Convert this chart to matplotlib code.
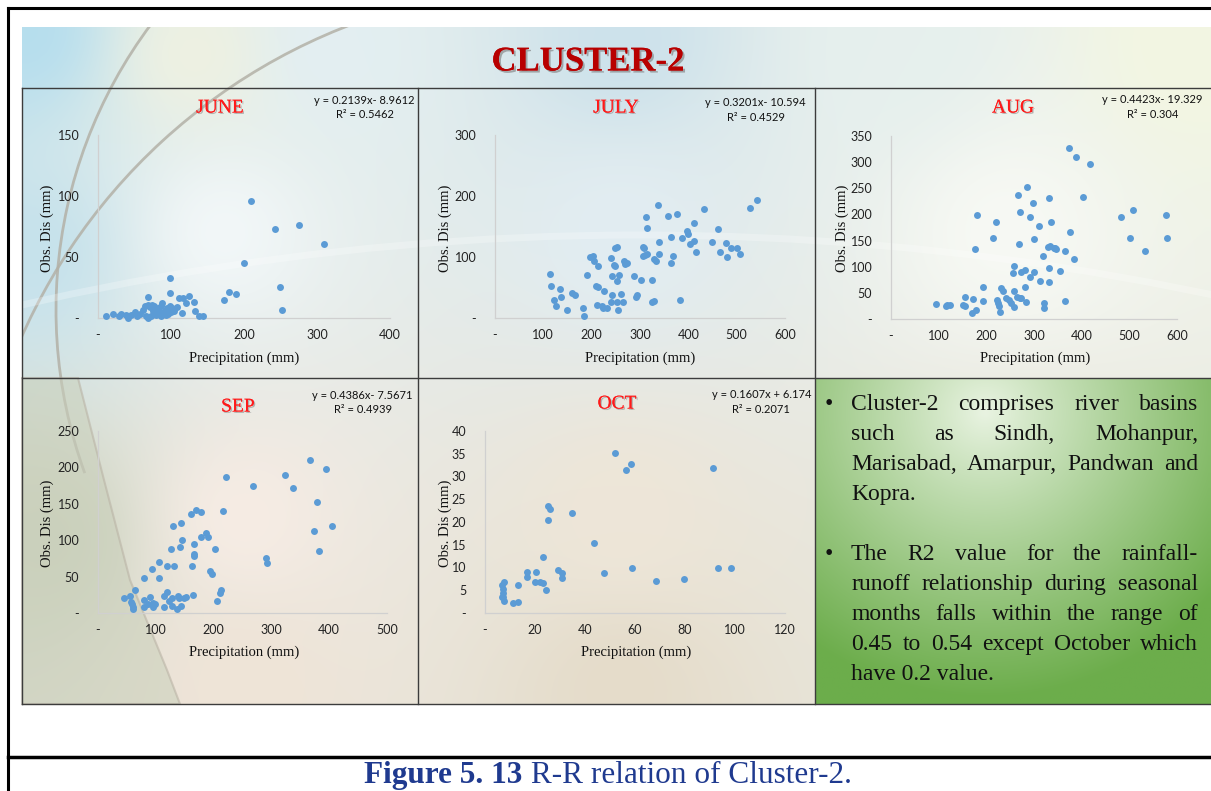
import numpy as np
import matplotlib
matplotlib.use('Agg')
import matplotlib.pyplot as plt
import matplotlib.colors as mcolors
from matplotlib import patheffects as pe
from matplotlib.patches import Arc, Polygon
from matplotlib.ticker import FuncFormatter, MultipleLocator

W, H = 1211, 791

# ---- data ----
june_x = [11, 21, 29, 32, 39, 41, 45, 50, 53, 62, 65, 66, 68, 68, 71, 74, 77, 77, 80, 84,
          86, 86, 90, 93, 95, 98, 100, 104, 68, 99, 99, 108, 111, 115, 116, 120, 124, 131, 133, 139,
          144, 173, 180, 189, 200, 209, 242, 249, 252, 276, 310, 58, 72, 82, 88, 92, 96, 102, 75]
june_y = [2, 3.3, 2, 3.3, 2.7, 0, 2.7, 4.6, 1.4, 6.8, 9.6, 1.4, 11, 0, 8.7, 10.4, 10, 4, 2.7, 5.5,
          9.6, 1.4, 5, 2.7, 8.2, 9.6, 4.6, 5.5, 17, 33, 20.5, 8.7, 16.4, 4.4, 16.4, 12.3, 18, 13.4, 5.5, 1.4,
          1.4, 14.8, 21.3, 20, 45, 95.6, 73, 25.4, 6.8, 76.5, 61, 3, 2, 8, 12, 6, 3, 8, 6]

july_x = [114, 115, 123, 126, 134, 137, 148, 159, 166, 183, 184, 191, 197, 202, 205, 214, 208, 214, 212, 221,
          224, 231, 226, 241, 246, 248, 248, 253, 243, 243, 241, 252, 253, 255, 257, 261, 264, 267, 269, 274,
          287, 291, 294, 302, 307, 309, 306, 310, 314, 312, 315, 324, 328, 325, 328, 334, 338, 339, 339, 357,
          364, 364, 369, 376, 383, 387, 397, 400, 404, 412, 412, 416, 433, 448, 461, 465, 477, 479, 488, 500,
          506, 528, 543]
july_y = [72, 53, 30, 20, 47, 35, 12.5, 41, 37, 16, 4, 70, 100, 102, 93, 84.5, 52, 51, 22, 20,
          16, 16, 45, 98, 87, 84.5, 114, 117, 69, 37, 27, 61, 27, 12.5, 70, 39, 27, 93, 89, 90,
          69, 35, 37, 62, 117, 114, 101, 104, 105, 166, 148, 27, 28, 62, 97, 93, 186, 125, 105, 167,
          133, 90, 102, 170, 30, 131, 143, 137, 121, 126, 155, 109, 178, 124, 146, 109, 123, 100, 115, 114,
          105, 180, 193]

aug_x = [95, 116, 118, 123, 150, 156, 156, 169, 173, 179, 177, 180, 193, 194, 215, 220, 223, 225, 227, 228,
         231, 234, 242, 248, 251, 255, 258, 259, 258, 265, 270, 266, 269, 270, 272, 273, 281, 281, 284, 285,
         292, 292, 297, 300, 299, 311, 313, 318, 320, 320, 329, 331, 331, 331, 334, 336, 341, 344, 346, 355,
         366, 366, 375, 374, 384, 388, 403, 418, 482, 501, 508, 533, 577, 580]
aug_y = [29, 24, 27, 26, 27, 43, 25, 11, 38, 18, 133, 199, 35, 62, 154, 186, 36, 30, 24, 13,
         60, 53, 40, 37, 30, 88, 102, 53, 22, 42, 40, 238, 143, 204, 90, 40, 94, 62, 32, 252,
         196, 81, 221, 89, 153, 178, 72, 121, 30, 21, 137, 70, 97, 231, 139, 186, 135, 135, 134, 91,
         131, 35, 167, 327, 115, 310, 233, 296, 196, 154, 208, 131, 199, 154]

sep_x = [45, 56, 57, 59, 60, 60, 64, 79, 79, 80, 87, 90, 93, 96, 96, 99, 106, 106, 115, 115,
         119, 119, 122, 126, 128, 128, 130, 132, 136, 139, 141, 142, 143, 144, 145, 148, 153, 161, 163, 165,
         166, 166, 166, 169, 178, 179, 187, 191, 193, 197, 202, 206, 211, 213, 216, 221, 269, 290, 293, 324,
         337, 366, 379, 374, 382, 395, 404]
sep_y = [21, 23, 15, 13, 8, 6, 32, 48, 8, 18, 12, 22, 60, 14, 8, 13, 70, 48, 8, 23,
         29, 65, 17, 88, 20, 10, 120, 65, 5, 23, 20, 91, 124, 9, 100, 20, 22, 136, 64, 25,
         95, 81, 78, 141, 139, 105, 110, 105, 58, 53, 88, 17, 27, 32, 140, 187, 175, 76, 68, 190,
         172, 210, 152, 112, 85, 198, 120]

oct_x = [6.9, 7.6, 7.1, 7.3, 7.3, 6.9, 7.6, 11.1, 13.1, 13.3, 16.7, 16.9, 20, 20.4, 22, 23.3, 23.2, 24.4,
         25.3, 26, 25.3, 29.3, 30.9, 30.9, 34.8, 43.7, 47.6, 52, 56.4, 58.5, 58.8, 68.3, 79.6, 91.1, 93.2, 98.5]
oct_y = [6.2, 6.8, 5.3, 4.5, 3.6, 3.5, 2.6, 2.1, 2.4, 6.2, 7.9, 9.0, 6.9, 9.0, 6.9, 6.5, 12.3, 5.1,
         23.6, 22.8, 20.4, 9.5, 8.8, 7.7, 22, 15.3, 8.9, 35.2, 31.4, 32.7, 9.9, 7.0, 7.5, 31.9, 10, 10]

months = ['JUNE', 'JULY', 'AUG', 'SEP', 'OCT']
equations = ['y = 0.2139x- 8.9612\nR² = 0.5462',
             'y = 0.3201x- 10.594\nR² = 0.4529',
             'y = 0.4423x- 19.329\nR² = 0.304',
             'y = 0.4386x- 7.5671\nR² = 0.4939',
             'y = 0.1607x + 6.174\nR² = 0.2071']

bullet1 = ['Cluster-2 comprises river basins', 'such as Sindh, Mohanpur,',
           'Marisabad, Amarpur, Pandwan and', 'Kopra.']
bullet2 = ['The R2 value for the rainfall-', 'runoff relationship during seasonal',
           'months falls within the range of', '0.45 to 0.54 except October which',
           'have 0.2 value.']

SERIF = ['Liberation Serif', 'DejaVu Serif']
SANS = ['Lato', 'DejaVu Sans']
BLUE = '#5B9BD5'

fig = plt.figure(figsize=(W / 100, H / 100), dpi=100)
fig.patch.set_facecolor('white')

# pixel-space background axes
bg = fig.add_axes([0, 0, 1, 1])
bg.set_xlim(0, W)
bg.set_ylim(H, 0)
bg.axis('off')
bg.set_zorder(-5)

# slide background gradient
anchors = [(22, 27, '#b6deee'), (190, 50, '#eef1e2'), (330, 45, '#e3eff2'), (620, 40, '#cde2eb'),
           (900, 40, '#e6f0ee'), (1200, 40, '#f3f6e2'), (220, 230, '#f2f7f8'), (620, 230, '#e2edf2'),
           (1010, 230, '#f7f9f4'), (30, 250, '#c6e2ec'), (40, 540, '#cdd3bf'), (240, 520, '#f6ece4'),
           (620, 520, '#eee6d8'), (240, 690, '#efe4d7'), (620, 690, '#e5dcca'), (1010, 520, '#e8e4d8')]
gx, gy = np.meshgrid(np.linspace(22, 1211, 120), np.linspace(27, 704, 70))
num = np.zeros(gx.shape + (3,))
den = np.zeros(gx.shape)
for axp, ayp, c in anchors:
    w = 1.0 / ((gx - axp) ** 2 + (gy - ayp) ** 2 + 400.0) ** 1.2
    num += w[..., None] * np.array(mcolors.to_rgb(c))
    den += w
bg.imshow(num / den[..., None], extent=(22, 1211, 704, 27), interpolation='bilinear',
          aspect='auto', zorder=0)

# decorative arcs on the slide (left side only)
clip = plt.Rectangle((22, 27), 1189, 677, transform=bg.transData)
for (cx, cy), r, t1, t2 in [((533, 310), 477, 160, 225), ((561, 576), 590, 200, 255)]:
    a = Arc((cx, cy), 2 * r, 2 * r, theta1=t1, theta2=t2, color='#b3b1a7', lw=2, alpha=0.85, zorder=1)
    bg.add_patch(a)
    a.set_clip_path(clip)
band = Arc((640, 3000), 5530, 5530, theta1=250, theta2=290, color='white', lw=5, alpha=0.25, zorder=1)
bg.add_patch(band)
band.set_clip_path(clip)
dark = Polygon([(22, 378), (78, 378), (104, 480), (130, 580), (167, 670), (180, 704), (22, 704)],
               closed=True, facecolor='#c9cfba', edgecolor='#b7b0a2', lw=1.5, alpha=0.55, zorder=1)
bg.add_patch(dark)

# green text panel
gx2, gy2 = np.meshgrid(np.linspace(815, 1211, 80), np.linspace(378, 704, 66))
d = np.clip(np.sqrt(((gx2 - 985) / 300) ** 2 + ((gy2 - 410) / 290) ** 2), 0, 1)
c0 = np.array(mcolors.to_rgb('#eaf4e3'))
c1 = np.array(mcolors.to_rgb('#6cad4b'))
bg.imshow(c0 + (c1 - c0) * (d[..., None] ** 0.9), extent=(815, 1211, 704, 378),
          interpolation='bilinear', aspect='auto', zorder=2)

# panel grid lines
lc = '#3c3c3c'
for y in [88, 378, 704]:
    bg.plot([22, 1211], [y, y], color=lc, lw=1, zorder=3)
for x in [22, 418, 815]:
    bg.plot([x, x], [88, 704], color=lc, lw=1, zorder=3)

# outer frame
bg.plot([8, 8], [8, H], color='black', lw=2.2, zorder=4)
bg.plot([8, W], [8, 8], color='black', lw=2.2, zorder=4)
bg.plot([8, W], [757, 757], color='black', lw=2.5, zorder=4)

# title
bg.text(588, 62, 'CLUSTER-2', ha='center', va='center', fontsize=25, fontweight='bold',
        color='#B80000', family=SERIF, zorder=5,
        path_effects=[pe.withSimplePatchShadow(offset=(1.5, -1.5), shadow_rgbFace='#7a7a7a', alpha=0.6),
                      pe.Normal()])


def fmt(v, pos):
    return '-' if abs(v) < 1e-9 else f'{v:g}'


def panel(x, y, rect, xmax, xstep, ymax, ystep, title, title_xy, eq, eq_xy, ylab_xy, xlab_xy):
    l, t, r, b = rect
    ax = fig.add_axes([l / W, 1 - b / H, (r - l) / W, (b - t) / H])
    ax.patch.set_alpha(0)
    ax.scatter(x, y, s=25, color=BLUE, linewidths=0, clip_on=False, zorder=3)
    ax.set_xlim(0, xmax)
    ax.set_ylim(0, ymax)
    ax.xaxis.set_major_locator(MultipleLocator(xstep))
    ax.yaxis.set_major_locator(MultipleLocator(ystep))
    ax.xaxis.set_major_formatter(FuncFormatter(fmt))
    ax.yaxis.set_major_formatter(FuncFormatter(fmt))
    for s in ['top', 'right']:
        ax.spines[s].set_visible(False)
    for s in ['left', 'bottom']:
        ax.spines[s].set_color('#d0d0d0')
        ax.spines[s].set_linewidth(0.9)
    ax.tick_params(axis='both', length=0, labelsize=9, labelcolor='#222222')
    ax.tick_params(axis='y', pad=13.5)
    ax.tick_params(axis='x', pad=8)
    for lab in ax.get_xticklabels() + ax.get_yticklabels():
        lab.set_family(SANS)
    bg.text(title_xy[0], title_xy[1], title, ha='center', va='center', fontsize=14, color='#FF1A1A',
            family=SERIF, zorder=5,
            path_effects=[pe.withSimplePatchShadow(offset=(1, -1), shadow_rgbFace='#8a8a8a', alpha=0.6),
                          pe.Normal()])
    bg.text(eq_xy[0], eq_xy[1], eq, ha='right', va='center', multialignment='center',
            fontsize=8, family=SANS, color='#111111', linespacing=1.35, zorder=5)
    bg.text(ylab_xy[0], ylab_xy[1], 'Obs. Dis (mm)', rotation=90, ha='center', va='center',
            fontsize=10.5, family=SERIF, color='#111111', zorder=5)
    bg.text(xlab_xy[0], xlab_xy[1], 'Precipitation (mm)', ha='center', va='center',
            fontsize=10.5, family=SERIF, color='#111111', zorder=5)
    return ax


panel(june_x, june_y, (98, 135, 390, 318), 400, 100, 150, 50, months[0], (220, 108),
      equations[0], (415, 107.5), (47, 228), (244, 358))
panel(july_x, july_y, (495, 135, 785, 318), 600, 100, 300, 100, months[1], (616, 108),
      equations[1], (806, 110), (445, 228), (640, 358))
panel(aug_x, aug_y, (891, 136, 1177, 319), 600, 100, 350, 50, months[2], (1013, 108),
      equations[2], (1203, 107), (842, 228), (1035, 358))
panel(sep_x, sep_y, (98, 431, 387, 613), 500, 100, 250, 50, months[3], (238, 407),
      equations[3], (413, 402.5), (47, 523), (244, 652))
panel(oct_x, oct_y, (485, 431, 785, 613), 120, 20, 40, 5, months[4], (617, 404),
      equations[4], (811, 402), (445, 523), (636, 652))

# bullet text, justified like the slide
renderer = fig.canvas.get_renderer()
tkw = dict(fontsize=17, family=SERIF, color='#111111', va='baseline', zorder=6)


def put_line(line, y, left, right, justify):
    if not justify:
        bg.text(left, y, line, ha='left', **tkw)
        return
    words = line.split()
    objs = [bg.text(0, y, wd, ha='left', **tkw) for wd in words]
    widths = [o.get_window_extent(renderer).width for o in objs]
    gap = (right - left - sum(widths)) / (len(words) - 1)
    xp = left
    for o, wd in zip(objs, widths):
        o.set_x(xp)
        xp += wd + gap


for lines, y0 in [(bullet1, 410), (bullet2, 560)]:
    bg.text(825, y0, '•', ha='left', **tkw)
    for i, line in enumerate(lines):
        put_line(line, y0 + i * 30, 851, 1198, i < len(lines) - 1)

# caption
ckw = dict(fontsize=22.5, family=SERIF, color='#1f3a8f', va='baseline', zorder=6)
t1 = bg.text(0, 783, 'Figure 5. 13', fontweight='bold', ha='left', **ckw)
t2 = bg.text(0, 783, ' R-R relation of Cluster-2.', ha='left', **ckw)
w1 = t1.get_window_extent(renderer).width
w2 = t2.get_window_extent(renderer).width
x0 = 608 - (w1 + w2) / 2
t1.set_x(x0)
t2.set_x(x0 + w1)

fig.savefig('out.png', dpi=100)
